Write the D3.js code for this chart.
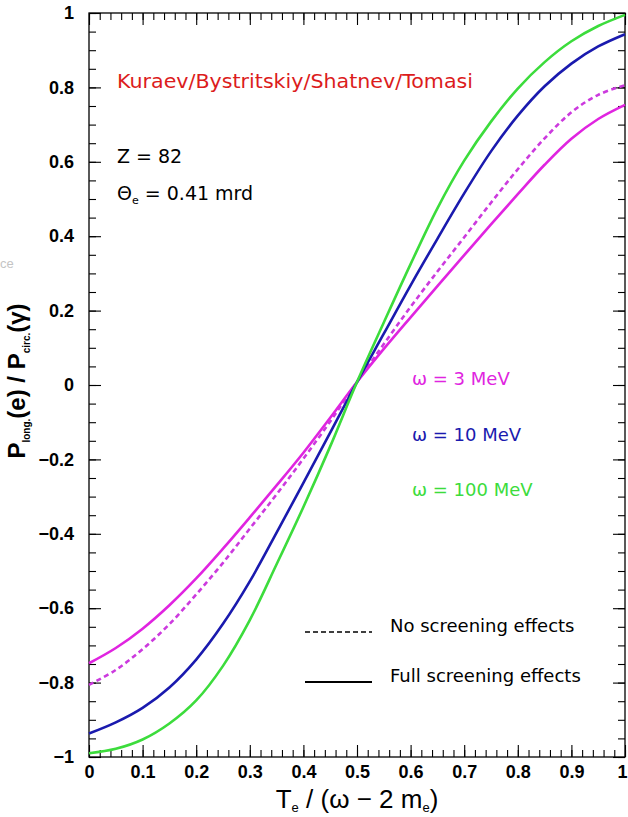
<!DOCTYPE html>
<html>
<head>
<meta charset="utf-8">
<script src="https://cdn.jsdelivr.net/npm/d3@7"></script>
<style>
  html, body { margin: 0; padding: 0; background: #fff; }
  svg { display: block; }
</style>
</head>
<body>
<svg id="chart" width="628" height="817"></svg>
<script>
// Electron longitudinal polarization per unit photon circular polarization,
// as a function of the electron kinetic-energy fraction T_e/(ω − 2m_e).

const energyFraction = [0, 0.05, 0.1, 0.15, 0.2, 0.25, 0.3, 0.35, 0.4, 0.45, 0.5,
                        0.55, 0.6, 0.65, 0.7, 0.75, 0.8, 0.85, 0.9, 0.95, 1];

// ω = 3 MeV, full screening
const pol3MeVFull = [-0.748, -0.707, -0.655, -0.592, -0.520, -0.440, -0.356, -0.270, -0.182, -0.088, 0.008,
                     0.097, 0.182, 0.266, 0.349, 0.432, 0.513, 0.592, 0.662, 0.715, 0.753];
// ω = 3 MeV, no screening
const pol3MeVNoScreen = [-0.806, -0.766, -0.710, -0.643, -0.563, -0.478, -0.386, -0.294, -0.198, -0.098, 0.008,
                         0.110, 0.210, 0.305, 0.397, 0.490, 0.580, 0.663, 0.733, 0.780, 0.806];
// ω = 10 MeV, full screening
const pol10MeVFull = [-0.937, -0.907, -0.868, -0.813, -0.738, -0.642, -0.528, -0.397, -0.263, -0.128, 0.008,
                      0.138, 0.268, 0.393, 0.515, 0.628, 0.724, 0.803, 0.864, 0.910, 0.943];
// ω = 100 MeV, full screening
const pol100MeVFull = [-0.990, -0.978, -0.953, -0.910, -0.848, -0.755, -0.632, -0.482, -0.328, -0.165, 0.008,
                       0.168, 0.325, 0.475, 0.603, 0.708, 0.797, 0.868, 0.924, 0.965, 0.995];

const xTickValues = [0, 0.1, 0.2, 0.3, 0.4, 0.5, 0.6, 0.7, 0.8, 0.9, 1];
const xTickLabels = ["0", "0.1", "0.2", "0.3", "0.4", "0.5", "0.6", "0.7", "0.8", "0.9", "1"];
const yTickValues = [-1, -0.8, -0.6, -0.4, -0.2, 0, 0.2, 0.4, 0.6, 0.8, 1];
const yTickLabels = ["\u22121", "\u22120.8", "\u22120.6", "\u22120.4", "\u22120.2", "0", "0.2", "0.4", "0.6", "0.8", "1"];

const authorsLabel = "Kuraev/Bystritskiy/Shatnev/Tomasi";
const energyLabels = ["\u03C9 = 3 MeV", "\u03C9 = 10 MeV", "\u03C9 = 100 MeV"];
const legendLabels = ["No screening effects", "Full screening effects"];

const colors = {
  m3: "#e024e0",
  m3dash: "#cc3ade",
  m10: "#1a1aae",
  m100: "#3cdc3c",
  red: "#dc1c1c"
};

const svg = d3.select("#chart");
const plot = { left: 89, right: 625, top: 13, bottom: 757 };

const x = d3.scaleLinear().domain([0, 1]).range([plot.left, plot.right]);
const y = d3.scaleLinear().domain([-1, 1]).range([plot.bottom, plot.top]);

const tickFont = "'Liberation Sans', Arial, Helvetica, sans-serif";
const textFont = "'DejaVu Sans', Verdana, sans-serif";

// ---- Axes: inward ticks on all four sides ----
const minorX = d3.range(0, 1.0001, 0.02);
const minorY = d3.range(-1, 1.0001, 0.05);

function styleAxis(g) {
  g.select(".domain").remove();
  g.selectAll(".tick line").attr("stroke", "#000").attr("stroke-width", 1.1);
}
function styleLabels(g) {
  g.selectAll("text")
    .attr("font-family", tickFont).attr("font-weight", "bold")
    .attr("font-size", 18).attr("fill", "#000");
}

svg.append("g")
  .attr("transform", `translate(0,${plot.bottom})`)
  .call(d3.axisBottom(x).tickValues(minorX).tickSize(-7).tickSizeOuter(0).tickFormat(""))
  .call(styleAxis);
svg.append("g")
  .attr("transform", `translate(0,${plot.bottom})`)
  .call(d3.axisBottom(x).tickValues(xTickValues).tickSize(-12).tickSizeOuter(0).tickPadding(8)
        .tickFormat((d, i) => xTickLabels[i]))
  .call(styleAxis)
  .call(styleLabels)
  .call(g => g.selectAll("text").filter(d => d === 1).attr("dx", -3));

svg.append("g")
  .attr("transform", `translate(0,${plot.top})`)
  .call(d3.axisTop(x).tickValues(minorX).tickSize(-7).tickSizeOuter(0).tickFormat(""))
  .call(styleAxis);
svg.append("g")
  .attr("transform", `translate(0,${plot.top})`)
  .call(d3.axisTop(x).tickValues(xTickValues).tickSize(-12).tickSizeOuter(0).tickFormat(""))
  .call(styleAxis);

svg.append("g")
  .attr("transform", `translate(${plot.left},0)`)
  .call(d3.axisLeft(y).tickValues(minorY).tickSize(-7).tickSizeOuter(0).tickFormat(""))
  .call(styleAxis);
svg.append("g")
  .attr("transform", `translate(${plot.left},0)`)
  .call(d3.axisLeft(y).tickValues(yTickValues).tickSize(-12).tickSizeOuter(0).tickPadding(15)
        .tickFormat((d, i) => yTickLabels[i]))
  .call(styleAxis)
  .call(styleLabels);

svg.append("g")
  .attr("transform", `translate(${plot.right},0)`)
  .call(d3.axisRight(y).tickValues(minorY).tickSize(-7).tickSizeOuter(0).tickFormat(""))
  .call(styleAxis);
svg.append("g")
  .attr("transform", `translate(${plot.right},0)`)
  .call(d3.axisRight(y).tickValues(yTickValues).tickSize(-12).tickSizeOuter(0).tickFormat(""))
  .call(styleAxis);

// frame
svg.append("rect")
  .attr("x", plot.left).attr("y", plot.top)
  .attr("width", plot.right - plot.left).attr("height", plot.bottom - plot.top)
  .attr("fill", "none").attr("stroke", "#000").attr("stroke-width", 1.3);

// ---- Curves ----
const line = d3.line()
  .x(d => x(d[0]))
  .y(d => y(d[1]))
  .curve(d3.curveCatmullRom.alpha(0.5));

const series = [
  { values: pol3MeVNoScreen, color: colors.m3dash, dash: "5,3.5" },
  { values: pol3MeVFull, color: colors.m3, dash: null },
  { values: pol10MeVFull, color: colors.m10, dash: null },
  { values: pol100MeVFull, color: colors.m100, dash: null }
];

svg.append("g").selectAll("path")
  .data(series)
  .join("path")
  .attr("d", s => line(energyFraction.map((f, i) => [f, s.values[i]])))
  .attr("fill", "none")
  .attr("stroke", s => s.color)
  .attr("stroke-width", 2.6)
  .attr("stroke-dasharray", s => s.dash)
  .attr("stroke-linejoin", "round");

// ---- Annotations ----
svg.append("text")
  .attr("x", 117).attr("y", 88)
  .attr("font-family", textFont).attr("font-size", 19)
  .attr("fill", colors.red)
  .attr("textLength", 356).attr("lengthAdjust", "spacingAndGlyphs")
  .text(authorsLabel);

svg.append("text")
  .attr("x", 117).attr("y", 163)
  .attr("font-family", textFont).attr("font-size", 19)
  .attr("fill", "#000")
  .text("Z = 82");

const theta = svg.append("text")
  .attr("x", 117).attr("y", 200)
  .attr("font-family", textFont).attr("font-size", 19)
  .attr("fill", "#000");
theta.append("tspan").text("\u0398");
theta.append("tspan").attr("font-size", 11).attr("dy", 4).text("e");
theta.append("tspan").attr("dy", -4).text(" = 0.41 mrd");

const energyColors = [colors.m3, colors.m10, colors.m100];
const energyY = [385, 441, 496];
svg.append("g").selectAll("text")
  .data(energyLabels)
  .join("text")
  .attr("x", 412)
  .attr("y", (d, i) => energyY[i])
  .attr("font-family", textFont).attr("font-size", 18)
  .attr("fill", (d, i) => energyColors[i])
  .text(d => d);

// legend
const legendY = [632, 682];
const legend = svg.append("g");
legend.selectAll("line")
  .data(legendLabels)
  .join("line")
  .attr("x1", 305).attr("x2", 372)
  .attr("y1", (d, i) => legendY[i]).attr("y2", (d, i) => legendY[i])
  .attr("stroke", "#000")
  .attr("stroke-width", (d, i) => i === 0 ? 1.6 : 2)
  .attr("stroke-dasharray", (d, i) => i === 0 ? "5,3" : null);
legend.selectAll("text")
  .data(legendLabels)
  .join("text")
  .attr("x", 390)
  .attr("y", (d, i) => legendY[i])
  .attr("font-family", textFont).attr("font-size", 18)
  .attr("fill", "#000")
  .text(d => d);

// ---- Axis titles ----
const xTitle = svg.append("text")
  .attr("x", (plot.left + plot.right) / 2).attr("y", 808)
  .attr("text-anchor", "middle")
  .attr("font-family", tickFont).attr("font-size", 26)
  .attr("fill", "#000");
xTitle.append("tspan").text("T");
xTitle.append("tspan").attr("font-size", 13).attr("dy", 4).text("e");
xTitle.append("tspan").attr("dy", -4).text(" / (\u03C9 \u2212 2 m");
xTitle.append("tspan").attr("font-size", 13).attr("dy", 4).text("e");
xTitle.append("tspan").attr("dy", -4).text(")");

const yTitle = svg.append("text")
  .attr("transform", "translate(25,381) rotate(-90)")
  .attr("text-anchor", "middle")
  .attr("font-family", tickFont).attr("font-weight", "bold").attr("font-size", 24)
  .attr("fill", "#000");
yTitle.append("tspan").text("P");
yTitle.append("tspan").attr("font-size", 10).attr("dy", 5).text("long.");
yTitle.append("tspan").attr("dy", -5).text("(e) / P");
yTitle.append("tspan").attr("font-size", 10).attr("dy", 5).text("circ.");
yTitle.append("tspan").attr("dy", -5).text("(\u03B3)");

// faint text fragment at the left margin
svg.append("text")
  .attr("x", 0).attr("y", 268)
  .attr("font-family", tickFont).attr("font-size", 13)
  .attr("fill", "#c4c4c4")
  .text("ce");
</script>
</body>
</html>
